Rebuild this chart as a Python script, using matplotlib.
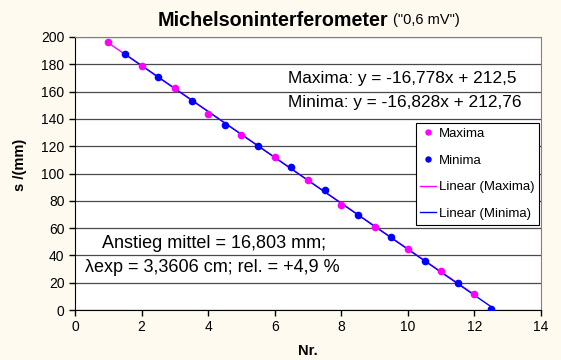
import numpy as np
import matplotlib.pyplot as plt

plt.rcParams['font.family'] = ['Liberation Sans', 'DejaVu Sans']

nr_max = [1, 2, 3, 4, 5, 6, 7, 8, 9, 10, 11, 12]
s_max = [196.1, 178.8, 162.6, 143.6, 128.1, 112.3, 95.0, 76.9, 60.6, 44.5, 28.6, 11.7]
nr_min = [1.5, 2.5, 3.5, 4.5, 5.5, 6.5, 7.5, 8.5, 9.5, 10.5, 11.5, 12.5]
s_min = [187.3, 170.7, 152.9, 135.5, 120.4, 104.8, 87.7, 69.4, 53.5, 36.1, 19.5, 0.7]

# Trendlinien (aus Diagramm)
fit_max = [-16.778, 212.5]
fit_min = [-16.828, 212.76]

x_ticks = [0, 2, 4, 6, 8, 10, 12, 14]
y_ticks = [0, 20, 40, 60, 80, 100, 120, 140, 160, 180, 200]

W, H = 561, 360
fig = plt.figure(figsize=(W / 100, H / 100), dpi=100)
fig.patch.set_facecolor('#fffaf0')

L, R, T, B = 75, 541, 37, 310
ax = fig.add_axes([L / W, 1 - B / H, (R - L) / W, (B - T) / H])
ax.set_facecolor('white')

xm = np.array([nr_max[0], nr_max[-1]])
xn = np.array([nr_min[0], nr_min[-1]])
ax.plot(xm, np.polyval(fit_max, xm), '-', color='#ff00ff', lw=1.0, label='Linear (Maxima)', zorder=3)
ax.plot(xn, np.polyval(fit_min, xn), '-', color='#0000ff', lw=1.0, label='Linear (Minima)', zorder=4)
ax.plot(nr_max, s_max, 'o', color='#ff00ff', ms=4.5, label='Maxima', zorder=5)
ax.plot(nr_min, s_min, 'o', color='#0000ff', ms=4.5, label='Minima', zorder=5)

ax.set_xlim(0, 14)
ax.set_ylim(0, 200)
ax.set_xticks(x_ticks)
ax.set_yticks(y_ticks)
ax.tick_params(labelsize=10, direction='out', length=4, width=1, colors='black')
ax.yaxis.grid(True, color='#4a4a4a', lw=0.9)
ax.set_axisbelow(True)
for s in ['top', 'right']:
  ax.spines[s].set_color('#808080')
for s in ['left', 'bottom']:
  ax.spines[s].set_color('black')

h, l = ax.get_legend_handles_labels()
order = [2, 3, 0, 1]
leg = ax.legend([h[i] for i in order], [l[i] for i in order], loc='upper right',
                bbox_to_anchor=((539 - L) / (R - L), (B - 123) / (B - T)), borderaxespad=0,
                fontsize=9.5, frameon=True, fancybox=False, shadow=False,
                edgecolor='black', facecolor='white', framealpha=1,
                handlelength=1.15, handletextpad=0.25, labelspacing=1.1,
                borderpad=0.35, markerscale=0.8)
leg.get_frame().set_linewidth(0.8)

fig.text(288 / W, 1 - 79 / H, 'Maxima: y = -16,778x + 212,5', fontsize=12.4, va='center', ha='left')
fig.text(288 / W, 1 - 102 / H, 'Minima: y = -16,828x + 212,76', fontsize=12.4, va='center', ha='left')
fig.text(214 / W, 1 - 244 / H, 'Anstieg mittel = 16,803 mm;', fontsize=13, va='center', ha='center')
fig.text(212 / W, 1 - 268 / H, 'λexp = 3,3606 cm; rel. = +4,9 %', fontsize=13, va='center', ha='center')

fig.text(388 / W, 1 - 20 / H, 'Michelsoninterferometer', fontsize=14.2, fontweight='bold', va='center', ha='right')
fig.text(393 / W, 1 - 20 / H, '("0,6 mV")', fontsize=10.5, va='center', ha='left')
fig.text(20 / W, 1 - 165 / H, 's /(mm)', fontsize=10.5, fontweight='bold', rotation=90, va='center', ha='center')
fig.text(308 / W, 1 - 351 / H, 'Nr.', fontsize=10.5, fontweight='bold', va='center', ha='center')

fig.savefig('out.png', dpi=100, facecolor=fig.get_facecolor())
